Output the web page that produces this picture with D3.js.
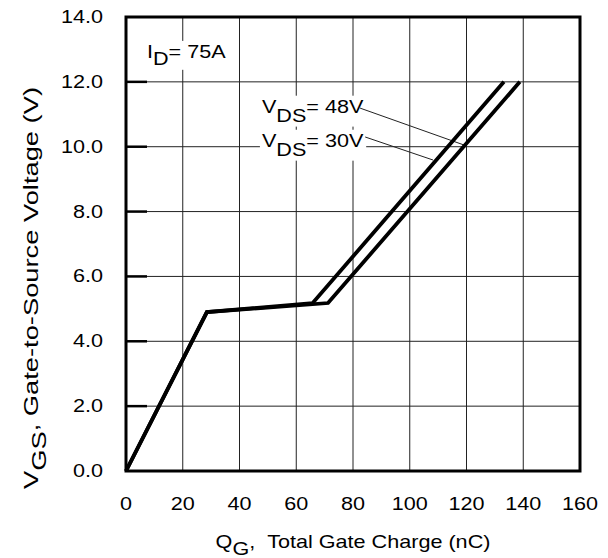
<!DOCTYPE html>
<html>
<head>
<meta charset="utf-8">
<script src="https://cdn.jsdelivr.net/npm/d3@7"></script>
<style>
  body { margin: 0; background: #fff; }
  text { font-family: "Liberation Sans", Arial, sans-serif; fill: #000; }
</style>
</head>
<body>
<div id="chart"></div>
<script>
// gate charge curves
const qg30 = [0, 28.5, 71.2, 138.8];
const vgs30 = [0, 4.9, 5.18, 12.0];
const qg48 = [0, 28.5, 65.8, 133.2];
const vgs48 = [0, 4.9, 5.18, 12.0];
const xTicks = [0, 20, 40, 60, 80, 100, 120, 140, 160];
const yTicks = [0, 2, 4, 6, 8, 10, 12, 14];

const W = 608, H = 558;
const margin = { top: 17, right: 28, bottom: 87, left: 126 };
const width = W - margin.left - margin.right,
    height = H - margin.top - margin.bottom;
const SX = 1.2; // text in the original is stretched horizontally
const FS = 18;

const svg = d3.select("#chart")
    .append("svg")
    .attr("width", W)
    .attr("height", H);

const g = svg.append("g")
    .attr("transform", `translate(${margin.left},${margin.top})`);

const x = d3.scaleLinear().domain([0, 160]).range([0, width]);
const y = d3.scaleLinear().domain([0, 14]).range([height, 0]);

// stretched text helper, parts = [[str, dy], ...]
function label(parent, px, py, parts, anchor) {
    const t = parent.append("text")
        .attr("transform", `translate(${px},${py}) scale(${SX},1)`)
        .attr("font-size", FS)
        .attr("text-anchor", anchor || "start");
    parts.forEach(p => {
        t.append("tspan").attr("dy", p[1]).text(p[0]);
    });
    return t;
}

// grid
g.selectAll(".vgrid")
    .data(xTicks.slice(1, -1))
    .enter().append("line")
    .attr("x1", d => x(d)).attr("x2", d => x(d))
    .attr("y1", 0).attr("y2", height)
    .attr("stroke", "#222").attr("stroke-width", 1);

g.selectAll(".hgrid")
    .data(yTicks.slice(1, -1))
    .enter().append("line")
    .attr("x1", 0).attr("x2", width)
    .attr("y1", d => y(d)).attr("y2", d => y(d))
    .attr("stroke", "#222").attr("stroke-width", 1);

// thick ticks on the inside of the left edge
g.selectAll(".ytick")
    .data(yTicks.slice(1, -1))
    .enter().append("line")
    .attr("x1", 0).attr("x2", 21)
    .attr("y1", d => y(d)).attr("y2", d => y(d))
    .attr("stroke", "#000").attr("stroke-width", 2.5);

// tick labels
yTicks.forEach(d => {
    label(g, -23, y(d) + 6, [[d.toFixed(1), 0]], "end");
});
xTicks.forEach(d => {
    label(g, x(d), height + 39, [[String(d), 0]], "middle");
});

// annotations (white box behind, gridlines get cut)
function boxedLabel(px, py, parts) {
    const t = label(g, px, py, parts, "start");
    const b = t.node().getBBox();
    g.insert("rect", "text")
        .attr("x", px + b.x * SX - 2)
        .attr("y", py + b.y - 1)
        .attr("width", b.width * SX + 4)
        .attr("height", b.height + 2)
        .attr("fill", "#fff");
    return t;
}

boxedLabel(x(7.4), y(12.73), [["I", 0], ["D", 7], ["= 75A", -7]]);
boxedLabel(x(47.9), y(11.04), [["V", 0], ["DS", 9], ["= 48V", -9]]);
boxedLabel(x(47.9), y(9.99), [["V", 0], ["DS", 9], ["= 30V", -9]]);

// leader lines
const leaders = [
    [[82.5, 11.19], [119.2, 10.05]],
    [[84.3, 10.3], [108.2, 9.59]]
];
leaders.forEach(l => {
    g.append("line")
        .attr("x1", x(l[0][0])).attr("y1", y(l[0][1]))
        .attr("x2", x(l[1][0])).attr("y2", y(l[1][1]))
        .attr("stroke", "#222").attr("stroke-width", 1);
});

// curves
const line = d3.line().x(d => x(d[0])).y(d => y(d[1]));
[[qg30, vgs30], [qg48, vgs48]].forEach(s => {
    g.append("path")
        .datum(d3.zip(s[0], s[1]))
        .attr("d", line)
        .attr("fill", "none")
        .attr("stroke", "#000")
        .attr("stroke-width", 3.8)
        .attr("stroke-linejoin", "miter");
});

// frame
g.append("rect")
    .attr("width", width).attr("height", height)
    .attr("fill", "none")
    .attr("stroke", "#000")
    .attr("stroke-width", 3);

// axis titles
label(svg, margin.left + width / 2, 548,
    [["Q", 0], ["G", 7], [",\u00a0\u00a0Total Gate Charge (nC)", -7]], "middle");

const yt = svg.append("text")
    .attr("transform", `translate(38,${288}) rotate(-90) scale(1.3,1)`)
    .attr("font-size", 21)
    .attr("text-anchor", "middle");
yt.append("tspan").text("V");
yt.append("tspan").attr("dy", 8).text("GS");
yt.append("tspan").attr("dy", -8).text(", Gate-to-Source Voltage (V)");
</script>
</body>
</html>
